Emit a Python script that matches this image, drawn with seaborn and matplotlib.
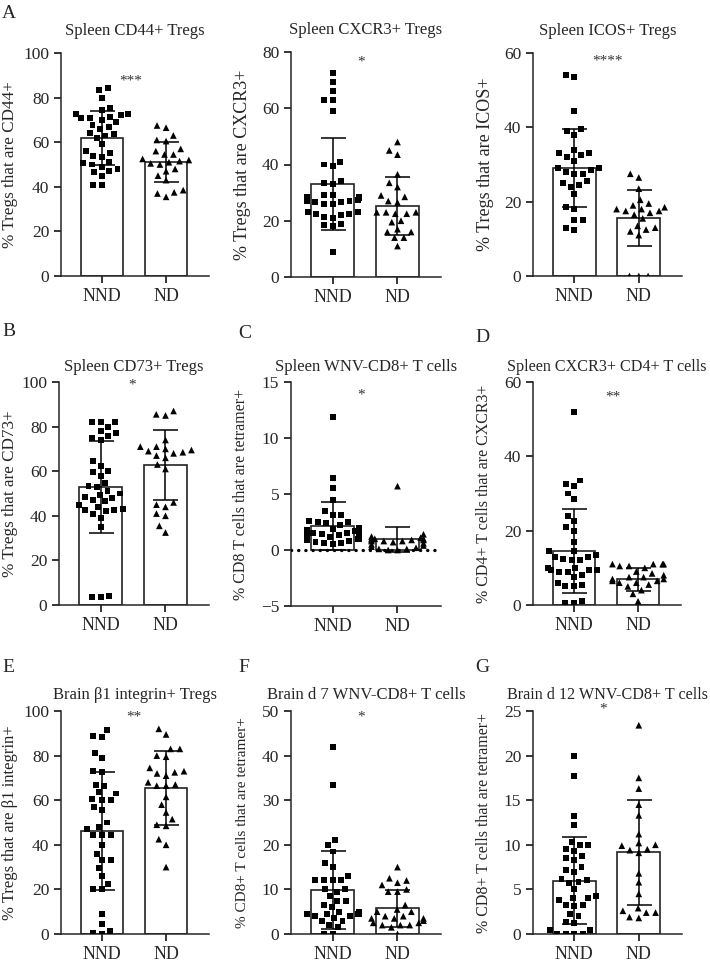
import numpy as np
import pandas as pd
import seaborn as sns
import matplotlib
matplotlib.use("Agg")
import matplotlib.pyplot as plt

# ---- data ----
groups = ["NND", "ND"]

cd44_nnd = [84.5, 83.5, 80, 75.5, 74.5, 72.5, 72.5, 72, 71.5, 71, 71, 70, 69, 67.5, 67, 66, 64, 63.5, 63, 62,
            59, 56, 55, 54, 53.5, 51, 50.5, 50, 49, 48, 47, 46.5, 45, 41, 41]
cd44_nd = [67.5, 66.5, 63, 61, 60.5, 57, 56, 54.5, 54.5, 52.5, 52, 51.5, 51, 50.5, 50, 48, 47, 45, 43, 38.5,
           37.5, 37, 35.5]

cxcr3_nnd = [72.5, 69.5, 66, 63, 63, 59, 41, 40, 39.5, 34, 33.5, 33, 29, 29, 28.5, 28, 28, 27.5, 27, 27, 26.5,
             26, 26, 26.5, 28.5, 23, 23, 22.5, 22.5, 22, 21.5, 21, 19, 18.5, 18, 9]
cxcr3_nd = [48, 45, 43.5, 36.5, 33.5, 32, 29, 28.5, 27, 26.5, 23, 23, 23, 22.5, 22.5, 20, 19.5, 17, 16, 16, 14,
            14, 11]

icos_nnd = [54, 53.5, 44.5, 39.5, 39, 38, 34, 33, 33, 32.5, 32, 31, 29, 29, 28.5, 28, 27.5, 27.5, 25.5, 25, 24.5,
            24, 22, 18.5, 18, 15, 15, 13, 12.5]
icos_nd = [27.5, 26.5, 23.5, 20.5, 19.5, 19, 18.5, 18, 18, 17.5, 17.5, 17, 16.5, 15.5, 13.5, 13, 12.5, 12, 11,
           0, 0, 0]

cd73_nnd = [82, 82, 82, 80, 78, 77, 76, 75, 74, 64.5, 62.5, 60, 59.5, 58, 54.5, 53.5, 53, 51, 50, 49.5, 48.5, 48,
            47, 46.5, 45, 44, 43, 42.5, 42, 42.5, 41, 39, 35, 4, 3.5, 3.5]
cd73_nd = [87, 85.5, 85, 74, 71, 71, 70, 69.5, 69, 68.5, 68, 67, 66, 63, 61, 46, 45, 44, 41, 40, 35.5, 32.5]

wnv_nnd = [11.9, 6.4, 5.5, 4.5, 3.5, 3.1, 3.1, 2.6, 2.5, 2.5, 2.4, 2.2, 2.0, 2.0, 1.9, 1.8, 1.7, 1.6, 1.5, 1.5,
           1.5, 1.4, 1.3, 1.2, 1.1, 1.0, 1.0, 0.9, 0.8, 0.7, 0.6, 0.6, 0.5]
wnv_nd = [5.7, 1.4, 1.2, 1.1, 1.0, 1.0, 1.0, 0.9, 0.9, 0.9, 0.8, 0.8, 0.8, 0.7, 0.6, 0.5, 0.4, 0.3, 0.2, 0.1,
          0.1, 0.0, 0.0]

cd4_nnd = [52, 33.5, 32.5, 32, 30, 28.5, 24, 22.5, 21, 20, 17, 14.5, 14.5, 13.5, 13, 13, 12.5, 12, 12, 10, 10,
           9.5, 9.5, 9.5, 9, 9, 8, 7.5, 6, 5.5, 5, 5, 1, 0.5, 0.5]
cd4_nd = [11, 11, 11, 11, 10.5, 10.5, 10, 9, 8.5, 8, 7.5, 7.5, 7, 7, 6.5, 6.5, 6, 6, 5.5, 5, 4, 3, 1]

b1_nnd = [91.5, 89, 88.5, 81, 79, 73, 72.5, 67, 66.5, 63.5, 63, 60.5, 60, 60, 57, 55.5, 50, 48, 47, 44.5, 44.5,
          44.5, 40, 36, 33, 33, 29.5, 26, 22.5, 20, 20, 9, 4.5, 1.5, 0.5, 0]
b1_nd = [92, 89.5, 83, 83, 80, 79.5, 74.5, 73, 72.5, 72, 71, 68, 67, 66.5, 66.5, 61.5, 58, 54.5, 51.5, 49, 48.5,
         42.5, 40, 30]

d7_nnd = [42, 33.5, 21, 20, 18.5, 16, 15, 13, 12, 12, 12, 12, 10, 10, 9.5, 8.5, 7.5, 7.5, 6.5, 6, 5, 5, 4.5, 4.5,
          4.5, 4.5, 4.5, 4, 4, 3.5, 3, 3, 2, 1.5, 0, 0]
d7_nd = [15, 12.5, 12, 11.5, 11, 10, 9.5, 9.5, 6.5, 5.5, 5, 5, 4, 4, 3.5, 3.5, 3.5, 3, 2.5, 2.5, 2, 2, 2, 1.5, 0]

d12_nnd = [20, 17.7, 13.2, 12.2, 10.3, 10, 10, 9.5, 9.3, 8.7, 8.5, 8.3, 7.5, 7.2, 7.0, 6.2, 6.0, 5.8, 5.7, 5.0,
           4.3, 4.0, 4.0, 3.8, 3.3, 3.2, 3.1, 2.2, 2.0, 1.3, 1.2, 0.5, 0.5, 0, 0, 0, 0]
d12_nd = [23.4, 17.5, 16.3, 14.5, 13.3, 11.2, 10.2, 10.0, 9.9, 9.5, 9.4, 9.1, 6.8, 5.8, 4.5, 2.9, 2.6, 2.4, 2.4,
          1.9, 1.8]

bar_means = [[62, 51], [33, 25.3], [29, 15.6], [52.9, 62.8], [2.13, 0.94], [14.6, 6.9], [46.3, 65.5],
             [9.85, 5.75], [5.97, 9.15]]
bar_sd = [[12, 9], [16.3, 10.3], [10.5, 7.5], [20.6, 15.7], [2.17, 1.13], [11.3, 3.0], [26.4, 16.6],
          [8.75, 4.1], [4.85, 5.9]]

titles = ["Spleen CD44+ Tregs", "Spleen CXCR3+ Tregs", "Spleen ICOS+ Tregs",
          "Spleen CD73+ Tregs", "Spleen WNV-CD8+ T cells", "Spleen CXCR3+ CD4+ T cells",
          "Brain \u03b21 integrin+ Tregs", "Brain d 7 WNV-CD8+ T cells", "Brain d 12 WNV-CD8+ T cells"]
ylabels = ["% Tregs that are CD44+", "% Tregs that are CXCR3+", "% Tregs that are ICOS+",
           "% Tregs that are CD73+", "% CD8 T cells that are tetramer+", "% CD4+ T cells that are CXCR3+",
           "% Tregs that are \u03b21 integrin+", "% CD8+ T cells that are tetramer+",
           "% CD8+ T cells that are tetramer+"]
stars = ["***", "*", "****", "*", "*", "**", "**", "*", "*"]
yticks = [range(0, 101, 20), range(0, 81, 20), range(0, 61, 20), range(0, 101, 20), range(-5, 16, 5),
          range(0, 61, 20), range(0, 101, 20), range(0, 51, 10), range(0, 26, 5)]
points = [(cd44_nnd, cd44_nd), (cxcr3_nnd, cxcr3_nd), (icos_nnd, icos_nd), (cd73_nnd, cd73_nd),
          (wnv_nnd, wnv_nd), (cd4_nnd, cd4_nd), (b1_nnd, b1_nd), (d7_nnd, d7_nd), (d12_nnd, d12_nd)]

# ---- layout (pixels: left, top, right, bottom) ----
W, H = 710, 964
boxes = [(61, 53, 209, 276), (291, 52, 441, 277), (533, 53, 682, 276),
         (59, 382, 209, 605), (291, 382, 441, 606), (533, 382, 681, 605),
         (61, 711, 209, 934), (291, 711, 441, 934), (533, 711, 682, 934)]
title_gap = [22, 22, 22, 15, 15, 15, 16, 16, 16]
title_fs = [12, 12, 12, 12, 12, 11.6, 12, 12, 11.6]
# right edge (descender side) of the rotated y label, in axes fraction
ylab_x = [-0.29, -0.267, -0.262, -0.273, -0.28, -0.277, -0.29, -0.28, -0.275]
ylab_fs = [12.3, 13, 13, 12.3, 11.5, 11.5, 12, 11, 11.5]
star_pos = [(0.47, 0.875), (0.47, 0.957), (0.50, 0.965), (0.49, 0.985), (0.47, 0.94), (0.54, 0.934),
            (0.49, 0.975), (0.47, 0.975), (0.47, 1.01)]
letters = [("A", 9, 13), ("B", 9, 331), ("C", 245, 334), ("D", 482, 337), ("E", 8, 668), ("F", 244, 668),
           ("G", 482, 668)]

sns.set_style("ticks")
plt.rcParams["font.family"] = ["Liberation Serif", "DejaVu Serif"]
plt.rcParams["axes.linewidth"] = 1.1

fig = plt.figure(figsize=(W / 100, H / 100), dpi=100)

for i in range(9):
    l, t, r, b = boxes[i]
    ax = fig.add_axes([l / W, 1 - b / H, (r - l) / W, (b - t) / H])
    nnd, nd = points[i]
    df = pd.DataFrame({"group": ["NND"] * len(nnd) + ["ND"] * len(nd), "value": nnd + nd})
    bars = pd.DataFrame({"group": groups, "mean": bar_means[i]})
    sns.barplot(data=bars, x="group", y="mean", order=groups, color="white", edgecolor="#222222",
                linewidth=1.2, width=0.66, errorbar=None, ax=ax)
    if i == 4:
        ax.axhline(0, color="black", lw=2.4, ls=(0, (0.05, 2.1)), dash_capstyle="round", zorder=3)
    # invisible edge widens the swarm spacing without enlarging the markers
    sns.swarmplot(data=df[df.group == "NND"], x="group", y="value", order=groups, color="black",
                  marker="s", size=4.3, linewidth=1.6, edgecolor="none", ax=ax, zorder=4)
    sns.swarmplot(data=df[df.group == "ND"], x="group", y="value", order=groups, color="black",
                  marker="^", size=4.8, linewidth=1.6, edgecolor="none", ax=ax, zorder=4)
    ax.errorbar([0, 1], bar_means[i], yerr=bar_sd[i], fmt="none", ecolor="black", elinewidth=1.1,
                capsize=9, capthick=1.1, zorder=5)
    ax.set_xlim(-0.64, 1.67)
    yt = list(yticks[i])
    ax.set_ylim(yt[0], yt[-1])
    ax.set_yticks(yt)
    ax.set_yticklabels([str(v).replace("-", "\u2212") for v in yt])
    ax.tick_params(axis="both", labelsize=12.5, length=5, width=1.1, color="black")
    ax.tick_params(axis="x", labelsize=13)
    ax.set_xlabel("")
    ax.set_ylabel(ylabels[i], fontsize=ylab_fs[i])
    ax.yaxis.set_label_coords(ylab_x[i], 0.5)
    sns.despine(ax=ax)
    ax.text(0.5, 1 + title_gap[i] / (b - t), titles[i], transform=ax.transAxes, ha="center", va="center",
            fontsize=title_fs[i])
    sx, sy = star_pos[i]
    ax.text(sx, sy, stars[i], transform=ax.transAxes, ha="center", va="center", fontsize=11, color="#333333")

for lab, x, y in letters:
    fig.text(x / W, 1 - y / H, lab, ha="center", va="center", fontsize=14)

fig.savefig("out.png", dpi=100)
